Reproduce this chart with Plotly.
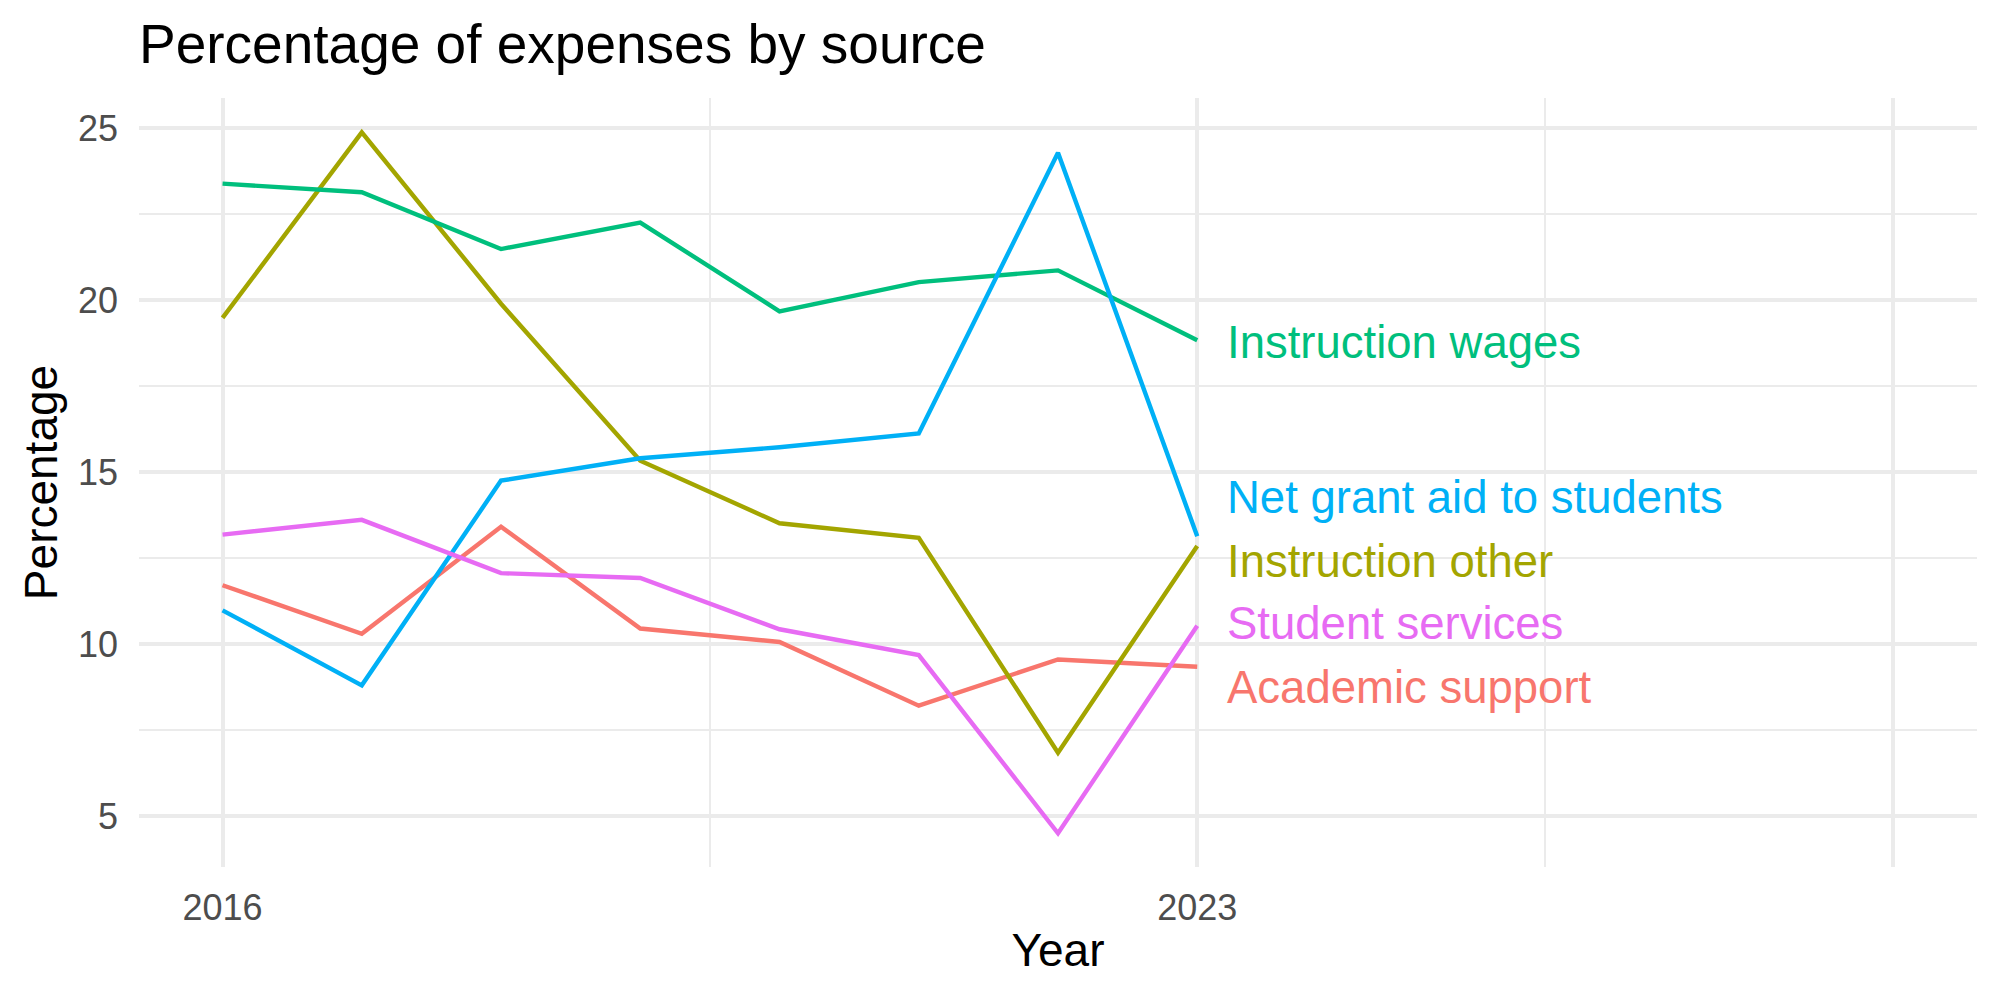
import plotly.graph_objects as go

years = [2016, 2017, 2018, 2019, 2020, 2021, 2022, 2023]

academic_support = [11.71, 10.30, 13.41, 10.45, 10.06, 8.21, 9.55, 9.34]
instruction_other = [19.48, 24.87, 19.89, 15.33, 13.51, 13.09, 6.84, 12.85]
instruction_wages = [23.38, 23.13, 21.48, 22.25, 19.67, 20.52, 20.86, 18.83]
net_grant_aid = [10.98, 8.80, 14.75, 15.40, 15.72, 16.12, 24.28, 13.13]
student_services = [13.18, 13.61, 12.06, 11.92, 10.43, 9.68, 4.50, 10.53]

series_names = ["Academic support", "Instruction other", "Instruction wages",
                "Net grant aid to students", "Student services"]
series_values = [academic_support, instruction_other, instruction_wages,
                 net_grant_aid, student_services]
series_colors = ["#F8766D", "#A3A500", "#00BF7D", "#00B0F6", "#E76BF3"]
# label vertical positions (repelled label centres)
label_y = [8.74, 12.40, 18.77, 14.26, 10.59]

x_major = [2016, 2023, 2028]
x_major_text = ["2016", "2023", ""]
x_minor = [2019.5, 2025.5]
y_major = [5, 10, 15, 20, 25]
y_minor = [7.5, 12.5, 17.5, 22.5]

FONT = "Liberation Sans, Arial, Helvetica, sans-serif"

fig = go.Figure()
for name, vals, col in zip(series_names, series_values, series_colors):
    fig.add_trace(go.Scatter(x=years, y=vals, mode="lines", name=name,
                             line=dict(color=col, width=4.4), showlegend=False))

for name, vals, col, ly in zip(series_names, series_values, series_colors, label_y):
    fig.add_annotation(x=years[-1], y=ly, xref="x", yref="y", text=name,
                       showarrow=False, xanchor="left", yanchor="middle",
                       xshift=28, font=dict(family=FONT, size=45.5, color=col))

fig.add_annotation(x=0, y=1, xref="paper", yref="paper",
                   text="Percentage of expenses by source", showarrow=False,
                   xanchor="left", yanchor="middle", yshift=54, xshift=-2,
                   font=dict(family=FONT, size=55, color="#000000"))

fig.update_layout(
    width=2000, height=1000,
    margin=dict(l=139, r=23, t=98, b=133),
    plot_bgcolor="white", paper_bgcolor="white",
    font=dict(family=FONT),
    xaxis=dict(range=[2015.4, 2028.6], tickvals=x_major, ticktext=x_major_text,
               showgrid=True, gridcolor="#EBEBEB", gridwidth=3.5, zeroline=False,
               showline=False, ticks="", ticklabelstandoff=16,
               tickfont=dict(family=FONT, size=36, color="#4D4D4D"),
               minor=dict(tickvals=x_minor, showgrid=True, gridcolor="#EBEBEB", gridwidth=1.8),
               title=dict(text="Year", font=dict(family=FONT, size=46, color="#000000"), standoff=6)),
    yaxis=dict(range=[3.52, 25.87], tickvals=y_major,
               showgrid=True, gridcolor="#EBEBEB", gridwidth=3.5, zeroline=False,
               showline=False, ticks="", ticklabelstandoff=20,
               tickfont=dict(family=FONT, size=36, color="#4D4D4D"),
               minor=dict(tickvals=y_minor, showgrid=True, gridcolor="#EBEBEB", gridwidth=1.8),
               title=dict(text="Percentage", font=dict(family=FONT, size=46, color="#000000"), standoff=5)),
)

fig.write_html("out.html")
